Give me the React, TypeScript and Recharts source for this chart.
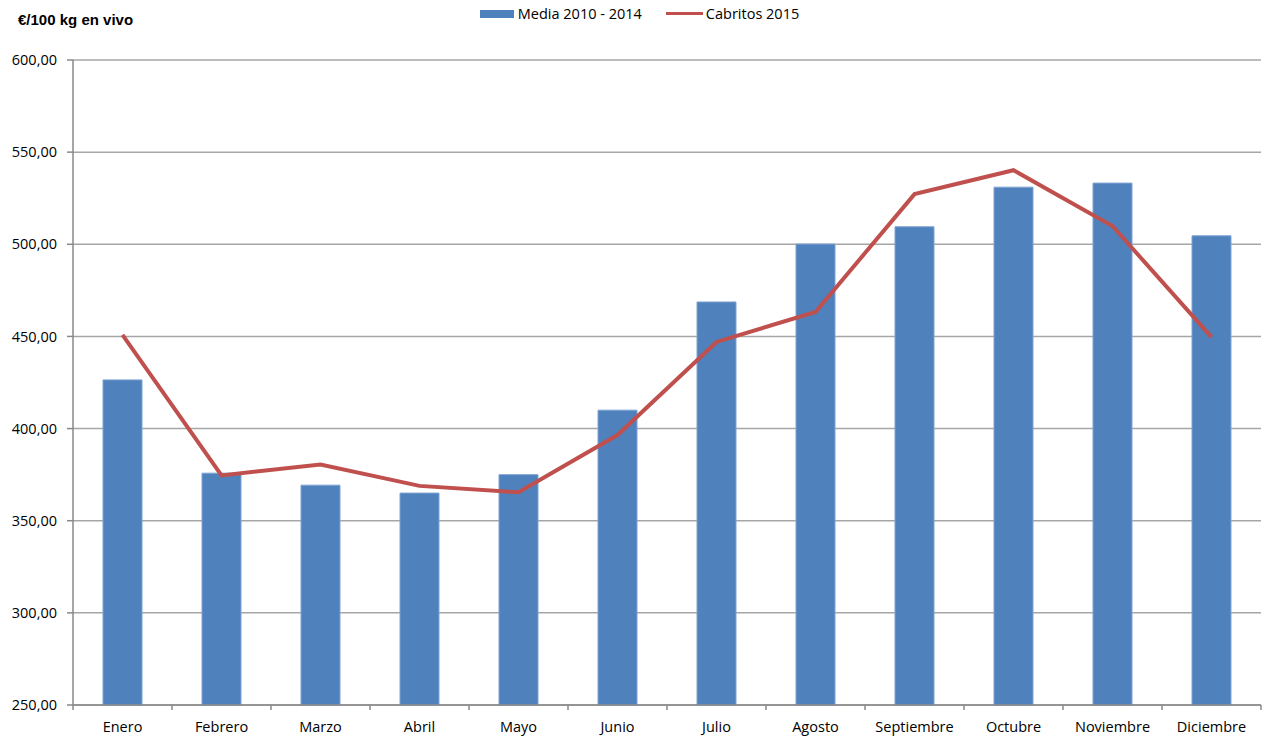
import React from "react"
import { Bar, ComposedChart, CartesianGrid, Line, XAxis, YAxis } from "recharts"

const months = ["Enero", "Febrero", "Marzo", "Abril", "Mayo", "Junio", "Julio", "Agosto", "Septiembre", "Octubre", "Noviembre", "Diciembre"]
const media = [426.4, 375.8, 369.3, 365.0, 375.0, 410.0, 468.7, 500.1, 509.5, 531.0, 533.2, 504.6]
const cabritos = [450.8, 374.6, 380.5, 368.9, 365.4, 396.5, 447.0, 463.3, 527.2, 540.2, 509.9, 449.6]
const yTicks = [250, 300, 350, 400, 450, 500, 550, 600]

const data = months.map((m, i) => ({ name: m, media: media[i], cabritos: cabritos[i] }))

const W = 1265
const H = 738
const PLOT_LEFT = 73
const PLOT_RIGHT = 4
const band = (W - PLOT_LEFT - PLOT_RIGHT) / months.length
const FONT = "'Open Sans', sans-serif"
const AXIS = "#888888"

const fmt = (v: number) => v.toFixed(2).replace(".", ",")

function MonthTick(props: any) {
  const { x, y, payload, index } = props
  const last = index === months.length - 1
  const y0 = y - 8 // axis line position (default tickSize + tickMargin)
  return (
    <g>
      <line x1={x - band / 2} x2={x - band / 2} y1={y0} y2={y0 + 5} stroke={AXIS} strokeWidth={1.5} />
      {last && <line x1={x + band / 2} x2={x + band / 2} y1={y0} y2={y0 + 5} stroke={AXIS} strokeWidth={1.5} />}
      <text x={x} y={y0 + 27} textAnchor="middle" fontSize={14.5} fontFamily={FONT} fill="#000">
        {payload.value}
      </text>
    </g>
  )
}

function LegendBox() {
  return (
    <div style={{ position: "absolute", top: 4, left: 0, width: W, display: "flex", justifyContent: "center", alignItems: "center", fontFamily: FONT, fontSize: 14.5, color: "#000", paddingLeft: 14, boxSizing: "border-box" }}>
      <span style={{ display: "inline-block", width: 34, height: 8, background: "#4f81bd", marginRight: 4 }} />
      <span>Media 2010 - 2014</span>
      <span style={{ display: "inline-block", width: 37, height: 3, background: "#c0504d", marginLeft: 24, marginRight: 3 }} />
      <span>Cabritos 2015</span>
    </div>
  )
}

export default function App() {
  return (
    <div style={{ position: "absolute", left: 0, top: 0, width: W, height: H, background: "#fff" }}>
      <div style={{ position: "absolute", left: 18, top: 12, lineHeight: 1, fontFamily: "'Liberation Sans', Arial, sans-serif", fontWeight: "bold", fontSize: 15, zIndex: 2 }}>
        €/100 kg en vivo
      </div>
      <LegendBox />
      <ComposedChart width={W} height={H} data={data} margin={{ top: 60, right: PLOT_RIGHT, left: 0, bottom: 0 }}>
        <CartesianGrid vertical={false} stroke="#a6a6a6" strokeWidth={1.5} />
        <XAxis
          dataKey="name"
          height={33}
          axisLine={{ stroke: AXIS, strokeWidth: 1.5 }}
          tickLine={false}
          tick={<MonthTick />}
          interval={0}
        />
        <YAxis
          width={PLOT_LEFT}
          domain={[250, 600]}
          ticks={yTicks}
          tickFormatter={fmt}
          axisLine={{ stroke: AXIS, strokeWidth: 1.5 }}
          tickLine={{ stroke: AXIS, strokeWidth: 1.5 }}
          tickSize={6}
          tickMargin={10}
          tick={{ fontSize: 14.5, fontFamily: FONT, fill: "#000" }}
        />
        <Bar dataKey="media" name="Media 2010 - 2014" fill="#4f81bd" stroke="#7fa3d3" strokeWidth={1} barSize={39} isAnimationActive={false} />
        <Line dataKey="cabritos" name="Cabritos 2015" stroke="#c0504d" strokeWidth={4} dot={false} activeDot={false} type="linear" isAnimationActive={false} />
      </ComposedChart>
    </div>
  )
}
